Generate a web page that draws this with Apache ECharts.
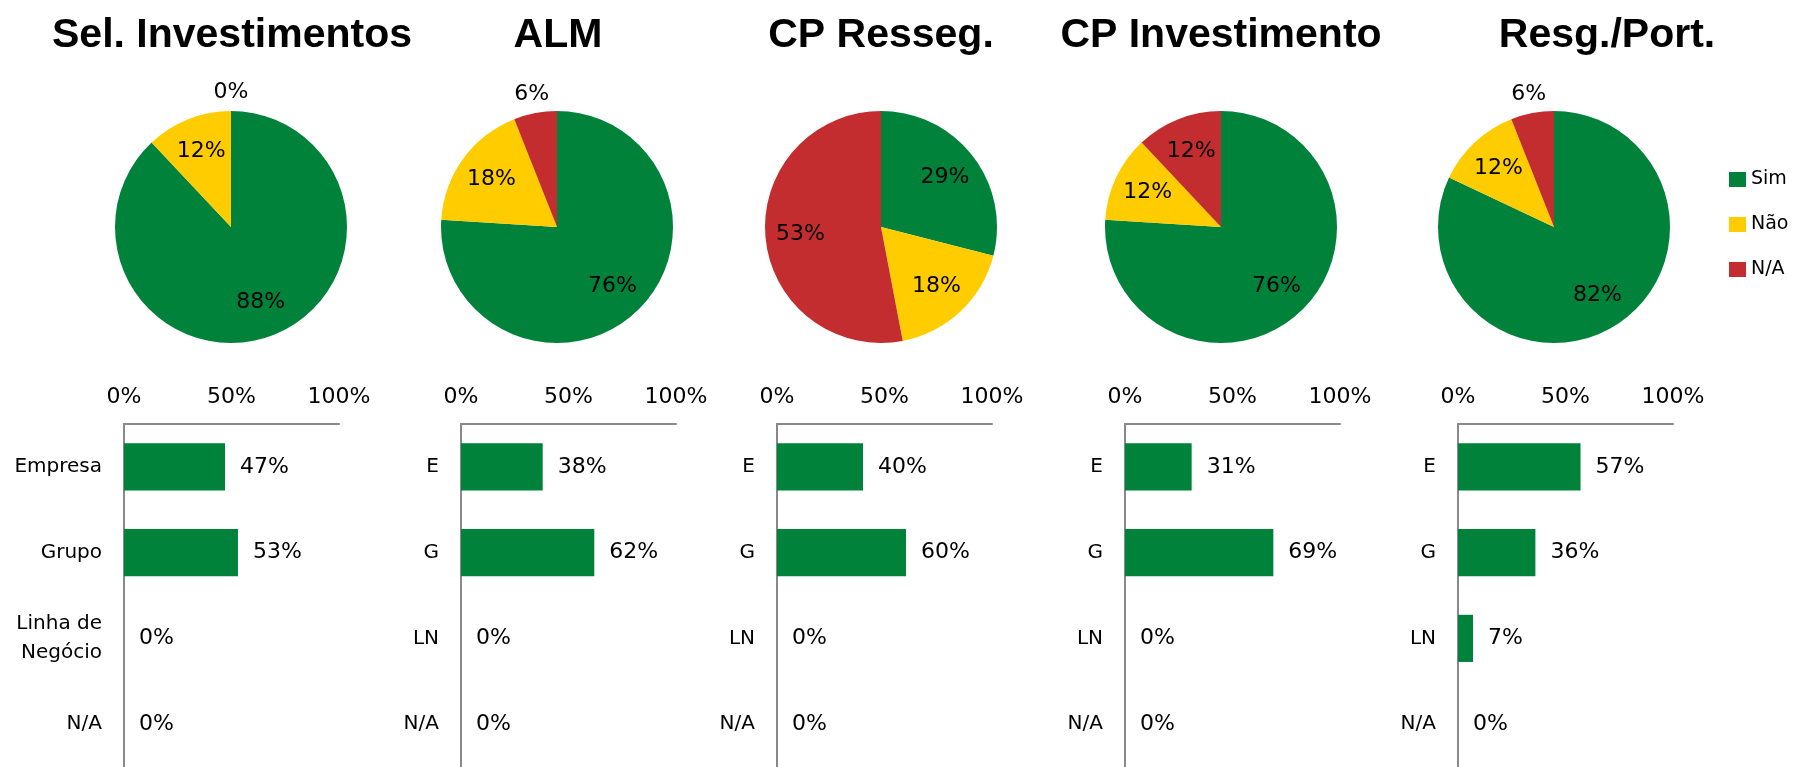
<!DOCTYPE html>
<html>
<head>
<meta charset="utf-8">
<script src="https://cdn.jsdelivr.net/npm/echarts@6/dist/echarts.min.js"></script>
<style>
  html, body { margin: 0; padding: 0; background: #fff; }
  #chart { width: 1800px; height: 767px; }
</style>
</head>
<body>
<div id="chart"></div>
<script>
// data
const panelTitles = ['Sel. Investimentos', 'ALM', 'CP Resseg.', 'CP Investimento', 'Resg./Port.'];
const legendNames = ['Sim', 'Não', 'N/A'];
const simPct = [88, 76, 29, 76, 82];
const naoPct = [12, 18, 18, 12, 12];
const naPct = [0, 6, 53, 12, 6];

const barCatsFirst = ['Empresa', 'Grupo', 'Linha de\nNegócio', 'N/A'];
const barCatsShort = ['E', 'G', 'LN', 'N/A'];
const empresaPct = [47, 38, 40, 31, 57];
const grupoPct = [53, 62, 60, 69, 36];
const linhaPct = [0, 0, 0, 0, 7];
const naBarPct = [0, 0, 0, 0, 0];

// layout
const titleX = [232, 558, 881, 1221, 1607];
const pieX = [231, 557, 881, 1221, 1554];
const pieY = 227;
const pieR = 116;
const gridLeft = [124, 461, 777, 1125, 1458];
const gridW = 215;

const green = '#00823B', yellow = '#FFCC00', red = '#C32D2F';
const sliceColors = [green, yellow, red];
const axisGray = '#898989';
const txtFont = 'DejaVu Sans';

const chart = echarts.init(document.getElementById('chart'));

function sliceValues(i) {
  return [simPct[i], naoPct[i], naPct[i]];
}

let mainPies = [], labelPies = [];
for (let i = 0; i < 5; i++) {
  let vals = sliceValues(i);
  mainPies.push({
    type: 'pie',
    center: [pieX[i], pieY],
    radius: pieR,
    startAngle: 90,
    clockwise: true,
    silent: true,
    label: { show: false },
    labelLine: { show: false },
    data: legendNames.map((n, k) => ({ name: n, value: vals[k], itemStyle: { color: sliceColors[k] } }))
  });
  // big slices get the label inside, small ones just outside the edge
  [[40, pieR, v => v >= 10], [pieR, 148, v => v < 10]].forEach(ring => {
    labelPies.push({
      type: 'pie',
      center: [pieX[i], pieY],
      radius: [ring[0], ring[1]],
      startAngle: 90,
      clockwise: true,
      silent: true,
      avoidLabelOverlap: false,
      itemStyle: { color: 'rgba(0,0,0,0)' },
      label: {
        position: 'inside',
        formatter: '{c}%',
        color: '#000',
        fontSize: 22,
        fontFamily: txtFont,
        textBorderWidth: 0
      },
      labelLine: { show: false },
      data: legendNames.map((n, k) => ({
        name: n,
        value: vals[k],
        itemStyle: { color: 'rgba(0,0,0,0)' },
        label: { show: ring[2](vals[k]) }
      }))
    });
  });
}

let grids = [], xAxes = [], yAxes = [], bars = [];
for (let i = 0; i < 5; i++) {
  grids.push({ left: gridLeft[i], top: 424, width: gridW, height: 348 });
  xAxes.push({
    gridIndex: i,
    type: 'value',
    position: 'top',
    min: 0,
    max: 100,
    interval: 50,
    axisLine: { show: true, lineStyle: { color: axisGray, width: 2 } },
    axisTick: { show: false },
    splitLine: { show: false },
    axisLabel: { formatter: '{value}%', color: '#000', fontSize: 22, fontFamily: txtFont, margin: 16 }
  });
  yAxes.push({
    gridIndex: i,
    type: 'category',
    inverse: true,
    data: i === 0 ? barCatsFirst : barCatsShort,
    axisLine: { show: true, lineStyle: { color: axisGray, width: 2 } },
    axisTick: { show: false },
    splitLine: { show: false },
    axisLabel: { color: '#000', fontSize: 20, fontFamily: txtFont, margin: 22, lineHeight: 29, align: 'right' }
  });
  bars.push({
    type: 'bar',
    xAxisIndex: i,
    yAxisIndex: i,
    barWidth: '55%',
    silent: true,
    itemStyle: { color: green, borderWidth: 0 },
    label: {
      show: true,
      position: 'right',
      distance: 15,
      formatter: '{c}%',
      color: '#000',
      fontSize: 22,
      fontFamily: txtFont
    },
    data: [empresaPct[i], grupoPct[i], linhaPct[i], naBarPct[i]]
  });
}

let option = {
  animation: false,
  backgroundColor: '#fff',
  graphic: panelTitles.map((t, i) => ({
    type: 'text',
    x: titleX[i],
    y: 36,
    style: {
      text: t,
      align: 'center',
      verticalAlign: 'middle',
      fill: '#000',
      font: 'bold 41px "Liberation Sans", Arial, sans-serif'
    }
  })),
  legend: {
    data: legendNames,
    orient: 'vertical',
    left: 1724,
    top: 165,
    icon: 'rect',
    itemWidth: 17,
    itemHeight: 15,
    itemGap: 26,
    textStyle: { color: '#000', fontSize: 19, fontFamily: txtFont },
    selectedMode: false
  },
  grid: grids,
  xAxis: xAxes,
  yAxis: yAxes,
  series: mainPies.concat(labelPies, bars)
};
chart.setOption(option);
</script>
</body>
</html>
